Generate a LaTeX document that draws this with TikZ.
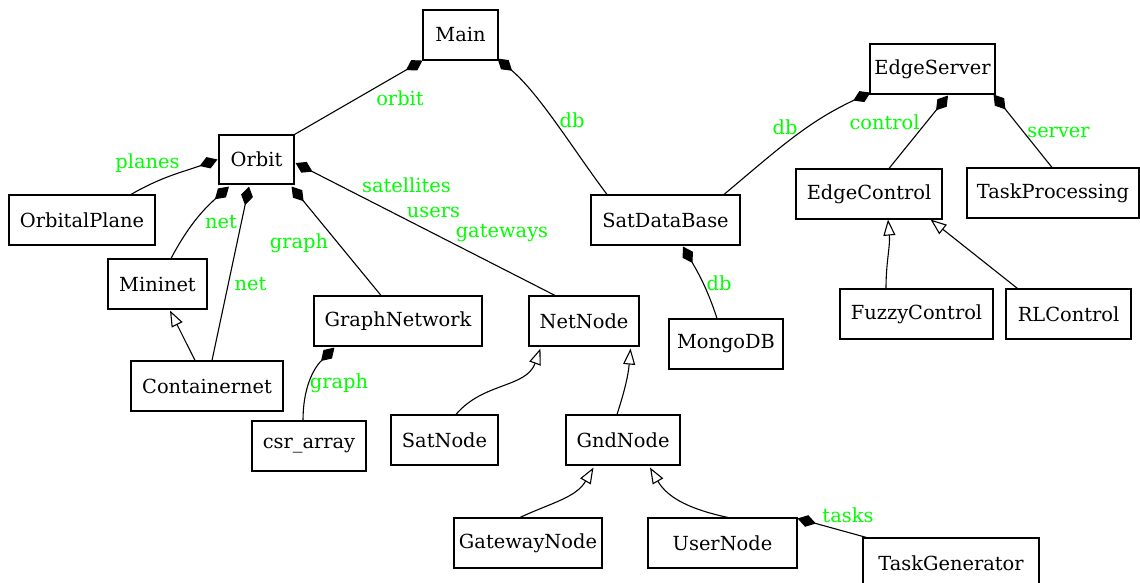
\documentclass[tikz,border=0pt]{standalone}
\usepackage{fontspec}
\setmainfont{DejaVu Serif}
\usetikzlibrary{arrows.meta}
\definecolor{lblgreen}{RGB}{0,255,0}
\begin{document}
\begin{tikzpicture}[x=1pt,y=-1pt,
  box/.style={draw, line width=1.1pt, inner sep=0pt, minimum height=50pt, font=\fontsize{19.4}{23}\selectfont},
  lbl/.style={text=lblgreen, inner sep=0pt, font=\fontsize{19.4}{23}\selectfont},
  conn/.style={line width=1.1pt},
  comp/.style={conn, -{Diamond[length=19pt,width=12pt]}},
  inh/.style={conn, -{Triangle[open,length=16pt,width=12pt,line width=1.1pt]}}]
\useasboundingbox (0,0) rectangle (1140,583);
% nodes
\node[box, minimum width=75pt] (Main) at (460.5,35) {Main};
\node[box, minimum width=75pt, minimum height=49pt] (Orbit) at (256.5,159.5) {Orbit};
\node[box, minimum width=146pt] (OrbitalPlane) at (82,220) {OrbitalPlane};
\node[box, minimum width=99pt] (Mininet) at (157.5,284) {Mininet};
\node[box, minimum width=152pt] (Containernet) at (207,386) {Containernet};
\node[box, minimum width=168pt] (GraphNetwork) at (398,321) {GraphNetwork};
\node[box, minimum width=110pt] (NetNode) at (584,321) {NetNode};
\node[box, minimum width=114pt] (csr) at (309,446) {csr\_array};
\node[box, minimum width=107pt] (SatNode) at (444.5,440) {SatNode};
\node[box, minimum width=114pt] (GndNode) at (623,440) {GndNode};
\node[box, minimum width=148pt] (GatewayNode) at (528,543) {GatewayNode};
\node[box, minimum width=149pt] (UserNode) at (722.5,543) {UserNode};
\node[box, minimum width=176pt] (TaskGenerator) at (951,563) {TaskGenerator};
\node[box, minimum width=149pt] (SatDataBase) at (665.5,220) {SatDataBase};
\node[box, minimum width=114pt] (MongoDB) at (726,344) {MongoDB};
\node[box, minimum width=125pt] (EdgeServer) at (932.5,69) {EdgeServer};
\node[box, minimum width=146pt] (EdgeControl) at (869,194) {EdgeControl};
\node[box, minimum width=172pt] (TaskProcessing) at (1053,193) {TaskProcessing};
\node[box, minimum width=153pt] (FuzzyControl) at (916.5,314) {FuzzyControl};
\node[box, minimum width=125pt] (RLControl) at (1068.5,314) {RLControl};
% composition connectors
\draw[comp] (Orbit.north east) -- (Main.south west);
\draw[comp] ([xshift=-58.5pt]SatDataBase.north) to[out=127,in=-40,looseness=0.8] ([xshift=-1pt,yshift=2pt]Main.south east);
\draw[comp] ([xshift=49pt]OrbitalPlane.north) to[out=30,in=200] ([xshift=-1pt]Orbit.west);
\draw[comp] ([xshift=13.5pt]Mininet.north) to[out=62,in=222] ([xshift=-27.5pt,yshift=-2pt]Orbit.south);
\draw[comp] ([xshift=5pt]Containernet.north) -- ([xshift=-7.5pt,yshift=-2pt]Orbit.south);
\draw[comp] ([xshift=-17pt]GraphNetwork.north) -- ([xshift=-3pt,yshift=-2pt]Orbit.south east);
\draw[comp] ([xshift=-29pt]NetNode.north) -- ([xshift=1pt,yshift=-3.5pt]Orbit.east);
\draw[comp] ([xshift=58.5pt]SatDataBase.north) to[out=40,in=205] ([xshift=1pt,yshift=2pt]EdgeServer.south west);
\draw[comp] ([xshift=20pt]EdgeControl.north) -- ([xshift=15.5pt,yshift=-1pt]EdgeServer.south);
\draw[comp] ([xshift=-1pt]TaskProcessing.north) -- ([xshift=-2pt]EdgeServer.south east);
\draw[comp] ([xshift=-9pt]MongoDB.north) to[out=108,in=-60] ([xshift=17.5pt,yshift=-1pt]SatDataBase.south);
\draw[comp] ([xshift=-6pt]csr.north) to[out=90,in=225] ([xshift=21pt,yshift=-1pt]GraphNetwork.south west);
\draw[comp] ([xshift=4pt]TaskGenerator.north west) -- ([yshift=-1pt]UserNode.north east);
% inheritance connectors
\draw[inh] ([xshift=-12pt]Containernet.north) -- ([xshift=12.5pt,yshift=-1pt]Mininet.south);
\draw[inh] ([xshift=11.5pt]SatNode.north) to[out=50,in=-110] ([xshift=12pt,yshift=-2pt]NetNode.south west);
\draw[inh] ([xshift=-6pt]GndNode.north) to[out=72,in=-95] ([xshift=-9pt,yshift=-2pt]NetNode.south east);
\draw[inh] ([xshift=-8pt]GatewayNode.north) to[out=25,in=240] ([xshift=28pt,yshift=-2pt]GndNode.south west);
\draw[inh] ([xshift=5.5pt]UserNode.north) to[out=168,in=-60] ([xshift=27pt,yshift=-2pt]GndNode.south);
\draw[inh] ([xshift=-30.5pt]FuzzyControl.north) to[out=90,in=-85] ([xshift=19pt]EdgeControl.south);
\draw[inh] ([xshift=12pt]RLControl.north west) -- ([xshift=-12pt]EdgeControl.south east);
% labels
\node[lbl] (l1) at (400,98) {orbit};
\node[lbl] (l2) at (572,120) {db};
\node[lbl] (l3) at (147.5,163) {planes};
\node[lbl] (l4) at (221,222) {net};
\node[lbl] (l5) at (250.5,284) {net};
\node[lbl] (l6) at (299,243) {graph};
\node[lbl] (l7) at (406.5,185) {satellites};
\node[lbl] (l8) at (433.5,212) {users};
\node[lbl] (l9) at (502,233) {gateways};
\node[lbl] (l10) at (785,127) {db};
\node[lbl] (l11) at (884.5,122) {control};
\node[lbl] (l12) at (1058.5,132) {server};
\node[lbl] (l13) at (719,283) {db};
\node[lbl] (l14) at (339,383) {graph};
\node[lbl] (l15) at (848,515) {tasks};
\end{tikzpicture}
\end{document}
